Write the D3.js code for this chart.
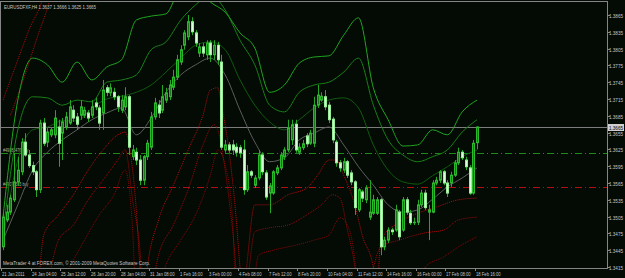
<!DOCTYPE html>
<html>
<head>
<meta charset="utf-8">
<script src="https://d3js.org/d3.v7.min.js"></script>
<style>
  body { margin: 0; background: #040a04; }
  svg text { font-family: "Liberation Sans", Arial, sans-serif; }
</style>
</head>
<body>
<div id="chart"></div>
<script>
// EURUSD H4 candles, 21 Jan 2011 - 18 Feb 2011
const open = [1.3451,1.3499,1.3513,1.3535,1.3567,1.3585,1.3638,1.3615,1.3596,1.3585,
  1.3553,1.3672,1.3638,1.3651,1.3651,1.3665,1.3654,1.3665,1.3672,1.3695,
  1.3683,1.3686,1.3686,1.3690,1.3686,1.3708,1.3699,1.3690,1.3735,1.3726,
  1.3727,1.3719,1.3695,1.3701,1.3719,1.3612,1.3620,1.3606,1.3570,1.3612,
  1.3629,1.3683,1.3704,1.3695,1.3713,1.3719,1.3736,1.3754,1.3781,1.3811,
  1.3826,1.3853,1.3833,1.3797,1.3808,1.3794,1.3815,1.3794,1.3811,1.3781,
  1.3624,1.3633,1.3633,1.3629,1.3628,1.3624,1.3553,1.3585,1.3561,1.3574,
  1.3615,1.3583,1.3547,1.3547,1.3583,1.3592,1.3612,1.3624,1.3642,1.3670,
  1.3620,1.3628,1.3649,1.3636,1.3636,1.3704,1.3713,1.3719,1.3704,1.3679,
  1.3638,1.3601,1.3588,1.3603,1.3583,1.3567,1.3517,1.3549,1.3535,1.3504,
  1.3511,1.3511,1.3535,1.3451,1.3463,1.3481,1.3481,1.3513,1.3481,1.3535,
  1.3511,1.3494,1.3495,1.3526,1.3547,1.3513,1.3513,1.3565,1.3570,1.3585,
  1.3565,1.3565,1.3579,1.3601,1.3620,1.3606,1.3592,1.3547,1.3637];
const high = [1.3513,1.3526,1.3544,1.3619,1.3612,1.3645,1.3654,1.3624,1.3603,1.3588,
  1.3678,1.3681,1.3663,1.3665,1.3695,1.3678,1.3681,1.3692,1.3713,1.3704,
  1.3690,1.3713,1.3701,1.3695,1.3713,1.3717,1.3704,1.3749,1.3740,1.3743,
  1.3735,1.3722,1.3722,1.3736,1.3722,1.3633,1.3628,1.3615,1.3615,1.3642,
  1.3692,1.3717,1.3713,1.3740,1.3735,1.3749,1.3767,1.3794,1.3811,1.3838,
  1.3865,1.3861,1.3838,1.3815,1.3815,1.3820,1.3820,1.3820,1.3817,1.3794,
  1.3642,1.3638,1.3642,1.3636,1.3633,1.3642,1.3597,1.3588,1.3579,1.3624,
  1.3620,1.3588,1.3565,1.3588,1.3597,1.3620,1.3629,1.3678,1.3678,1.3678,
  1.3636,1.3642,1.3654,1.3660,1.3719,1.3740,1.3727,1.3731,1.3710,1.3683,
  1.3642,1.3606,1.3610,1.3606,1.3588,1.3570,1.3556,1.3553,1.3561,1.3570,
  1.3544,1.3540,1.3538,1.3469,1.3486,1.3485,1.3526,1.3517,1.3540,1.3540,
  1.3517,1.3503,1.3535,1.3553,1.3553,1.3526,1.3570,1.3576,1.3588,1.3588,
  1.3570,1.3585,1.3606,1.3628,1.3624,1.3612,1.3597,1.3642,1.3666];
const low = [1.3445,1.3495,1.3508,1.3531,1.3560,1.3579,1.3612,1.3592,1.3579,1.3540,
  1.3547,1.3631,1.3629,1.3647,1.3645,1.3594,1.3606,1.3660,1.3669,1.3674,
  1.3660,1.3678,1.3681,1.3674,1.3681,1.3695,1.3660,1.3660,1.3720,1.3720,
  1.3713,1.3692,1.3690,1.3695,1.3615,1.3606,1.3597,1.3561,1.3561,1.3606,
  1.3624,1.3678,1.3681,1.3690,1.3708,1.3713,1.3731,1.3749,1.3776,1.3803,
  1.3820,1.3829,1.3808,1.3790,1.3790,1.3785,1.3781,1.3785,1.3776,1.3624,
  1.3619,1.3619,1.3615,1.3612,1.3610,1.3544,1.3549,1.3574,1.3556,1.3570,
  1.3579,1.3535,1.3511,1.3544,1.3579,1.3588,1.3606,1.3620,1.3633,1.3619,
  1.3615,1.3624,1.3629,1.3633,1.3629,1.3699,1.3710,1.3695,1.3672,1.3636,
  1.3594,1.3585,1.3583,1.3574,1.3561,1.3508,1.3513,1.3531,1.3529,1.3499,
  1.3508,1.3508,1.3436,1.3445,1.3458,1.3472,1.3478,1.3463,1.3478,1.3508,
  1.3490,1.3490,1.3490,1.3522,1.3517,1.3463,1.3511,1.3561,1.3565,1.3561,
  1.3540,1.3558,1.3576,1.3597,1.3606,1.3588,1.3544,1.3544,1.3625];
const close = [1.3504,1.3513,1.3538,1.3567,1.3588,1.3638,1.3615,1.3596,1.3585,1.3553,
  1.3672,1.3636,1.3656,1.3660,1.3681,1.3636,1.3674,1.3683,1.3701,1.3681,
  1.3670,1.3701,1.3695,1.3681,1.3701,1.3701,1.3672,1.3731,1.3727,1.3735,
  1.3719,1.3701,1.3713,1.3719,1.3629,1.3624,1.3606,1.3570,1.3612,1.3636,
  1.3683,1.3708,1.3690,1.3719,1.3726,1.3740,1.3754,1.3785,1.3803,1.3833,
  1.3853,1.3835,1.3815,1.3808,1.3797,1.3815,1.3794,1.3811,1.3785,1.3629,
  1.3633,1.3624,1.3624,1.3620,1.3619,1.3553,1.3585,1.3579,1.3574,1.3615,
  1.3585,1.3540,1.3560,1.3585,1.3592,1.3615,1.3624,1.3663,1.3669,1.3624,
  1.3629,1.3635,1.3635,1.3654,1.3704,1.3722,1.3720,1.3701,1.3678,1.3642,
  1.3601,1.3592,1.3603,1.3579,1.3567,1.3521,1.3553,1.3538,1.3556,1.3513,
  1.3535,1.3535,1.3451,1.3463,1.3481,1.3478,1.3517,1.3469,1.3535,1.3513,
  1.3494,1.3495,1.3526,1.3547,1.3521,1.3517,1.3565,1.3570,1.3585,1.3565,
  1.3547,1.3579,1.3601,1.3620,1.3610,1.3594,1.3547,1.3636,1.3665];

// one time label every 8 bars
const timeLabels = ["21 Jan 2011","24 Jan 04:00","25 Jan 12:00","26 Jan 20:00","28 Jan 04:00",
  "31 Jan 08:00","1 Feb 16:00","3 Feb 00:00","4 Feb 08:00","7 Feb 12:00","8 Feb 20:00",
  "10 Feb 04:00","11 Feb 12:00","14 Feb 16:00","16 Feb 00:00","17 Feb 08:00","18 Feb 16:00"];
const priceTicks = [1.3865,1.3835,1.3805,1.3775,1.3745,1.3715,1.3685,1.3655,
  1.3625,1.3595,1.3565,1.3535,1.3505,1.3475,1.3445,1.3415];

// indicator lines, read every 4 bars (bar 0, 4, 8 ... 128)
const maGray = [1.3463,1.3526,1.3588,1.3620,1.3642,1.3660,1.3678,1.3690,1.3699,1.3651,1.3681,
  1.3727,1.3758,1.3776,1.3788,1.3758,1.3695,1.3638,1.3603,1.3610,1.3642,1.3654,1.3665,
  1.3633,1.3594,1.3561,1.3526,1.3513,1.3517,1.3536,1.3558,1.3574,1.3592];
const upper1 = [1.3504,1.3713,1.3788,1.3776,1.3745,1.3781,1.3749,1.3772,1.3785,1.3856,1.3863,
  1.3867,1.3910,1.3913,1.3888,1.3870,1.3833,1.3806,1.3727,1.3740,1.3779,1.3790,1.3792,
  1.3829,1.3860,1.3735,1.3678,1.3631,1.3633,1.3660,1.3651,1.3692,1.3713];
const upper2 = [1.3476,1.3660,1.3719,1.3717,1.3704,1.3713,1.3710,1.3745,1.3749,1.3758,1.3803,
  1.3817,1.3856,1.3883,1.3901,1.3874,1.3820,1.3776,1.3704,1.3692,1.3727,1.3740,1.3745,
  1.3763,1.3788,1.3704,1.3642,1.3615,1.3603,1.3612,1.3624,1.3656,1.3678];
const upper3 = [1.3463,1.3606,1.3660,1.3665,1.3676,1.3676,1.3699,1.3715,1.3720,1.3727,1.3740,
  1.3763,1.3788,1.3811,1.3817,1.3803,1.3749,1.3704,1.3674,1.3660,1.3678,1.3699,1.3713,
  1.3717,1.3699,1.3633,1.3588,1.3567,1.3563,1.3578,1.3594,1.3612,1.3624];

// red lower lines as [bar, price]
const lower1 = [[10,1.3415],[11,1.3472],[15,1.3508],[19,1.3544],[23,1.3588],[27,1.3624],[31,1.3651],
  [33,1.3656],[35,1.3588],[36,1.3517],[37,1.3415],[38,1.3356],[39,1.3415],[42,1.3499],[46,1.3561],
  [50,1.3624],[54,1.3686],[56,1.3731],[58,1.3735],[59,1.3704],[61,1.3624],[63,1.3499],[64,1.3415],
  [65,1.3356],[66,1.3428],[68,1.3526],[72,1.3526],[77,1.3544],[82,1.3556],[85,1.3579],[88,1.3606],
  [90,1.3606],[92,1.3579],[95,1.3526],[97,1.3472],[100,1.3415],[101,1.3374],[102,1.3463],
  [107,1.3495],[112,1.3511],[117,1.3522],[123,1.3535],[128,1.3538]];
const lower2 = [[13,1.3415],[15,1.3463],[19,1.3490],[23,1.3535],[27,1.3570],[31,1.3606],[33,1.3624],
  [35,1.3535],[37,1.3445],[38,1.3356],[40,1.3374],[42,1.3436],[46,1.3490],[50,1.3553],[54,1.3633],
  [57,1.3669],[58,1.3660],[60,1.3588],[62,1.3481],[64,1.3356],[66,1.3392],[68,1.3478],[72,1.3485],
  [77,1.3490],[82,1.3508],[86,1.3526],[89,1.3544],[91,1.3538],[93,1.3481],[95,1.3415],[96,1.3356],
  [99,1.3392],[102,1.3451],[107,1.3463],[114,1.3476],[119,1.3481],[123,1.3499],[128,1.3504]];
const lower3 = [[18,1.3415],[22,1.3463],[26,1.3508],[30,1.3544],[33,1.3588],[35,1.3481],[36,1.3356],
  [41,1.3356],[44,1.3419],[48,1.3463],[52,1.3508],[56,1.3579],[58,1.3624],[60,1.3597],[62,1.3499],
  [63,1.3356],[67,1.3356],[69,1.3436],[73,1.3445],[79,1.3454],[84,1.3463],[88,1.3472],[91,1.3503],
  [93,1.3490],[95,1.3428],[96,1.3356],[113,1.3356],[114,1.3415],[119,1.3433],[123,1.3451],[128,1.3469]];
const lowerA = [[0,1.3713],[3,1.3767],[7,1.3838],[11,1.3901],[12,1.3928]];
const lowerB = [[2,1.3686],[5,1.3740],[9,1.3820],[13,1.3901],[14,1.3928]];

const buyLevels = [1.3619, 1.3558];
const buyLabels = ["#49083476 buy", "#49072593 buy"];
const lastPrice = 1.3665;
const title = "EURUSDFXF,H4  1.3637 1.3666 1.3625 1.3665";
const copyright = "MetaTrader 4 at FOREX.com, \u00a9 2001-2009 MetaQuotes Software Corp.";

const width = 625, height = 278;
const frame = {left: 1, right: 607, top: 1, bottom: 268};
const fs = 5;

const svg = d3.select("#chart").append("svg")
  .attr("width", width).attr("height", height);

svg.append("rect").attr("width", width).attr("height", height).attr("fill", "#040a04");

const x = d3.scaleLinear().domain([0, 128]).range([3, 477]);
const y = d3.scaleLinear().domain([1.3415, 1.3865]).range([267, 15]);

svg.append("clipPath").attr("id", "plot")
  .append("rect")
  .attr("x", frame.left).attr("y", frame.top)
  .attr("width", frame.right - frame.left).attr("height", frame.bottom - frame.top);

const g = svg.append("g").attr("clip-path", "url(#plot)");

// current price line
g.append("line")
  .attr("x1", frame.left).attr("x2", frame.right)
  .attr("y1", Math.round(y(lastPrice)) + 0.5).attr("y2", Math.round(y(lastPrice)) + 0.5)
  .attr("stroke", "#7c7c7c");

// order lines
const buyColors = ["#1e8a1e", "#b01010"];
buyLevels.forEach((p, i) => {
  const yy = Math.round(y(p)) + 0.5;
  g.append("line")
    .attr("x1", frame.left).attr("x2", frame.right)
    .attr("y1", yy).attr("y2", yy)
    .attr("stroke", buyColors[i]).attr("stroke-dasharray", "7,3,1,3");
  g.append("text")
    .attr("x", 3).attr("y", yy - 1.5)
    .attr("font-size", fs).attr("fill", "#aab8aa")
    .attr("textLength", buyLabels[i].length * 1.95).attr("lengthAdjust", "spacingAndGlyphs")
    .text(buyLabels[i]);
});

// indicator lines
const every4 = (arr) => arr.map((v, i) => [i * 4, v]);
const line = d3.line()
  .x(d => x(d[0])).y(d => y(d[1]))
  .curve(d3.curveMonotoneX);

const series = [
  {data: lowerA, color: "#b00c0c", dash: "1,1"},
  {data: lowerB, color: "#b00c0c", dash: "1,1"},
  {data: lower3, color: "#8a0606", dash: "1,1"},
  {data: lower2, color: "#a00808", dash: "1,1"},
  {data: lower1, color: "#b40c0c", dash: "1,1"},
  {data: every4(upper3), color: "#0f5c0f", dash: null},
  {data: every4(upper2), color: "#178017", dash: null},
  {data: every4(upper1), color: "#1fa51f", dash: null},
  {data: every4(maGray), color: "#5e5e5e", dash: null}
];
series.forEach(s => {
  g.append("path")
    .attr("d", line(s.data))
    .attr("fill", "none")
    .attr("stroke", s.color)
    .attr("stroke-width", 1)
    .attr("stroke-dasharray", s.dash);
});

// candles
const bars = d3.range(open.length);
g.selectAll(".wick")
  .data(bars).enter().append("line")
  .attr("class", "wick")
  .attr("x1", i => Math.round(x(i)) + 0.5).attr("x2", i => Math.round(x(i)) + 0.5)
  .attr("y1", i => y(high[i])).attr("y2", i => y(low[i]))
  .attr("stroke", "#22a822");

g.selectAll(".body")
  .data(bars).enter().append("rect")
  .attr("class", "body")
  .attr("x", i => Math.round(x(i)) - 0.5)
  .attr("width", 2)
  .attr("y", i => Math.min(y(open[i]), y(close[i])))
  .attr("height", i => Math.max(0.5, Math.abs(y(open[i]) - y(close[i]))))
  .attr("fill", i => close[i] >= open[i] ? "#177a17" : "#d6ffd6")
  .attr("stroke", i => close[i] >= open[i] ? "#2cb82c" : "#9af09a")
  .attr("stroke-width", 1);

// frame
svg.append("rect")
  .attr("x", frame.left - 0.5).attr("y", frame.top + 0.5)
  .attr("width", frame.right - frame.left + 1).attr("height", frame.bottom - frame.top)
  .attr("fill", "none").attr("stroke", "#858585");

// price axis
priceTicks.forEach(p => {
  const yy = Math.round(y(p)) + 0.5;
  svg.append("line")
    .attr("x1", frame.right + 0.5).attr("x2", frame.right + 3)
    .attr("y1", yy).attr("y2", yy).attr("stroke", "#858585");
  svg.append("text")
    .attr("x", 609).attr("y", yy + 2)
    .attr("font-size", fs).attr("fill", "#c8c8c8")
    .attr("textLength", 14).attr("lengthAdjust", "spacingAndGlyphs")
    .text(d3.format(".4f")(p));
});

// last price box
const ly = Math.round(y(lastPrice));
svg.append("rect")
  .attr("x", 608).attr("y", ly - 3).attr("width", 16).attr("height", 7)
  .attr("fill", "#d0d0d0");
svg.append("text")
  .attr("x", 609).attr("y", ly + 2.5)
  .attr("font-size", fs).attr("fill", "#000")
  .attr("textLength", 14).attr("lengthAdjust", "spacingAndGlyphs")
  .text(d3.format(".4f")(lastPrice));

// time axis
timeLabels.forEach((t, k) => {
  const xx = Math.round(x(k * 8));
  svg.append("line")
    .attr("x1", xx - 1.5).attr("x2", xx - 1.5)
    .attr("y1", frame.bottom).attr("y2", frame.bottom + 3)
    .attr("stroke", "#858585");
  svg.append("text")
    .attr("x", xx - 1).attr("y", 276)
    .attr("font-size", fs).attr("fill", "#c8c8c8")
    .attr("textLength", t.length * 2.05).attr("lengthAdjust", "spacingAndGlyphs")
    .text(t);
});

// title and copyright
svg.append("text")
  .attr("x", 4).attr("y", 9)
  .attr("font-size", fs).attr("fill", "#c8c8c8")
  .attr("textLength", 92).attr("lengthAdjust", "spacingAndGlyphs")
  .text(title);
svg.append("text")
  .attr("x", 3).attr("y", 265)
  .attr("font-size", fs).attr("fill", "#c8c8c8")
  .attr("textLength", 147).attr("lengthAdjust", "spacingAndGlyphs")
  .text(copyright);
</script>
</body>
</html>
